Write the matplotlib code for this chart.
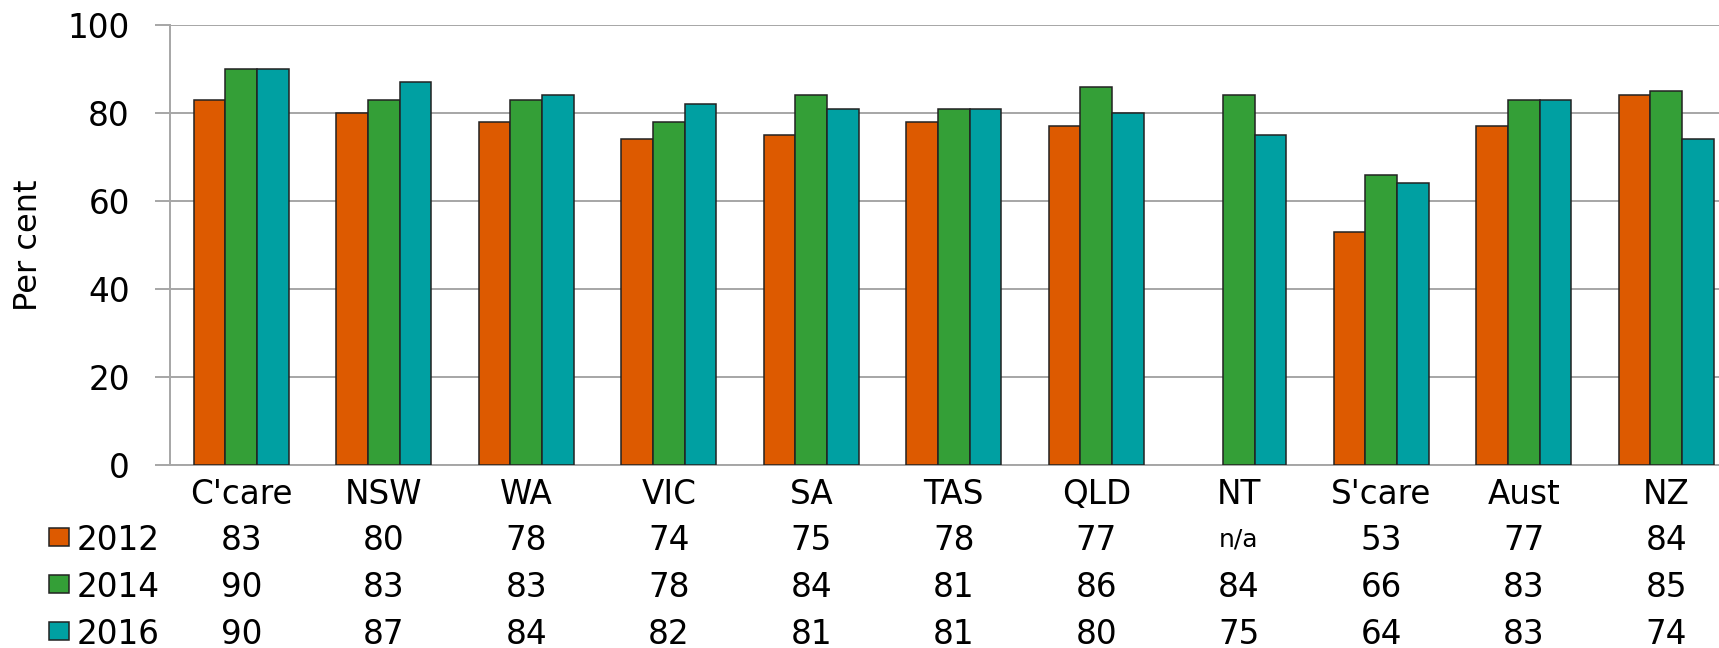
import numpy as np
import matplotlib
matplotlib.use("Agg")
import matplotlib.pyplot as plt
from matplotlib.patches import Rectangle
from matplotlib.transforms import blended_transform_factory

plt.rcParams['font.family'] = ['DejaVu Sans']

regions = ["C'care", "NSW", "WA", "VIC", "SA", "TAS", "QLD", "NT", "S'care", "Aust", "NZ"]
years = ["2012", "2014", "2016"]
v2012 = [83, 80, 78, 74, 75, 78, 77, np.nan, 53, 77, 84]
v2014 = [90, 83, 83, 78, 84, 81, 86, 84, 66, 83, 85]
v2016 = [90, 87, 84, 82, 81, 81, 80, 75, 64, 83, 74]
colors = ['#DD5A00', '#349F37', '#00A0A2']

W, H = 1719, 648
fig = plt.figure(figsize=(W / 100, H / 100), dpi=100)
# plot area in pixels: left 170, top 25, bottom 465; runs off the right edge
ax = fig.add_axes([170 / W, 1 - 465 / H, 1567.5 / W, 440 / H])

x = np.arange(len(regions))
bw = 0.222
for i, vals in enumerate([v2012, v2014, v2016]):
    ax.bar(x + (i - 1) * bw, vals, bw, color=colors[i],
           edgecolor='#222222', linewidth=1.1, zorder=3)

fs = 23.5
ax.set_xlim(-0.5, len(regions) - 0.5)
ax.set_ylim(0, 100)
ax.set_yticks([0, 20, 40, 60, 80, 100])
ax.grid(axis='y', color='#A6A6A6', linewidth=1.4, zorder=0)
ax.tick_params(axis='y', length=11, width=1.4, color='#A6A6A6',
               labelsize=fs, pad=18)
ax.set_xticks(x)
ax.set_xticklabels(regions)
ax.tick_params(axis='x', length=0, labelsize=fs, pad=9)
for s in ['top', 'right']:
    ax.spines[s].set_visible(False)
for s in ['left', 'bottom']:
    ax.spines[s].set_color('#A6A6A6')
    ax.spines[s].set_linewidth(1.4)
ax.set_ylabel('Per cent', fontsize=23)
ax.yaxis.set_label_coords(-126 / 1567.5, 0.5)

# data table below the axis
tr = blended_transform_factory(ax.transData, fig.transFigure)
row_px = [537, 584, 631]
for r, vals in enumerate([v2012, v2014, v2016]):
    yf = 1 - row_px[r] / H
    fig.add_artist(Rectangle((49 / W, yf - 9 / H), 20 / W, 18 / H,
                             transform=fig.transFigure, facecolor=colors[r],
                             edgecolor='#222222', linewidth=1.1))
    fig.text(77 / W, yf, years[r], fontsize=fs, ha='left', va='center_baseline')
    for j, v in enumerate(vals):
        if np.isnan(v):
            ax.text(j, yf, 'n/a', transform=tr, fontsize=18,
                    ha='center', va='center_baseline')
        else:
            ax.text(j, yf, '%d' % v, transform=tr, fontsize=fs,
                    ha='center', va='center_baseline')

fig.savefig('out.png', dpi=100)
